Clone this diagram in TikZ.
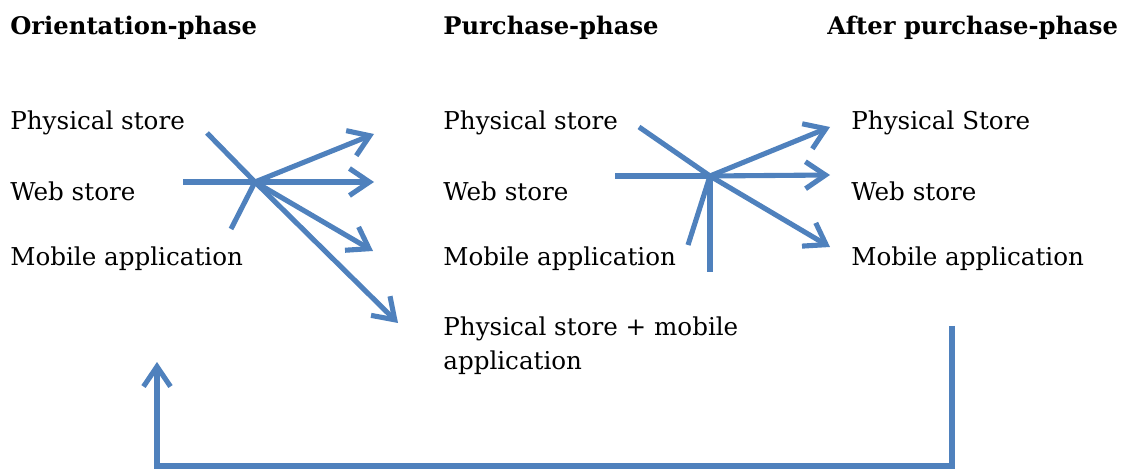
\documentclass[tikz,border=0pt]{standalone}
\usepackage{fontspec}
\setmainfont{DejaVu Serif}
\usepackage{xcolor}
\usepackage{tikz}
\usetikzlibrary{arrows.meta, positioning}
\definecolor{flowblue}{RGB}{79,129,189}
\tikzset{
  phase/.style   = {anchor=west, inner sep=0pt, font=\fontsize{13.8}{19}\selectfont\bfseries},
  channel/.style = {anchor=west, inner sep=0pt, align=left,
                    font=\fontsize{14}{19.3}\selectfont},
  link/.style    = {line width=2.9pt, draw=flowblue},
  arr/.style     = {link, -{Straight Barb[length=4mm, width=5.4mm, line width=2.9pt]}}
}
\begin{document}
\begin{tikzpicture}[x=0.02cm, y=-0.02cm]
  \useasboundingbox (0,0) rectangle (1124,472);
  % phases
  \node[phase] (orient) at (10,28)  {Orientation-phase};
  \node[phase] (purch)  at (443,28) {Purchase-phase};
  \node[phase] (after)  at (827,28) {After purchase-phase};

  \node[channel] (oPhys) at (10,123) {Physical store};
  \node[channel] (oWeb)  at (10,191) {Web store};
  \node[channel] (oMob)  at (10,259) {Mobile application};

  \node[channel] (pPhys) at (443,123) {Physical store};
  \node[channel] (pWeb)  at (443,191) {Web store};
  \node[channel] (pMob)  at (443,259) {Mobile application};
  \node[channel] (pBoth) at (443,346) {Physical store + mobile\\application};

  \node[channel] (aPhys) at (851,123) {Physical Store};
  \node[channel] (aWeb)  at (851,191) {Web store};
  \node[channel] (aMob)  at (851,259) {Mobile application};

  % orientation -> purchase
  \coordinate (hubA) at (255,182);
  \coordinate (inA1) at (207,133);
  \coordinate (inA2) at (183,182);
  \coordinate (inA3) at (231,229);
  \coordinate (toA1) at (374,134);
  \coordinate (toA2) at (374,182);
  \coordinate (toA3) at (373,251);
  \coordinate (toA4) at (398,323);
  \draw[link] (inA1) -- (hubA);
  \draw[link] (inA2) -- (hubA);
  \draw[link] (inA3) -- (hubA);
  \draw[arr] (hubA) -- (toA1);
  \draw[arr] (hubA) -- (toA2);
  \draw[arr] (hubA) -- (toA3);
  \draw[arr] (hubA) -- (toA4);

  % purchase -> after purchase
  \coordinate (hubB) at (710,176);
  \coordinate (inB1) at (639,127);
  \coordinate (inB2) at (615,176);
  \coordinate (inB3) at (688,245);
  \coordinate (inB4) at (710,272);
  \coordinate (toB1) at (830,127);
  \coordinate (toB2) at (830,175);
  \coordinate (toB3) at (830,247);
  \draw[link] (inB1) -- (hubB);
  \draw[link] (inB2) -- (hubB);
  \draw[link] (inB3) -- (hubB);
  \draw[link] (inB4) -- (hubB);
  \draw[arr] (hubB) -- (toB1);
  \draw[arr] (hubB) -- (toB2);
  \draw[arr] (hubB) -- (toB3);

  % back to orientation
  \coordinate (backFrom) at (952,326);
  \coordinate (backTo)   at (157,362);
  \draw[arr] (backFrom) -- ++(0,140) -| (backTo);
\end{tikzpicture}
\end{document}
